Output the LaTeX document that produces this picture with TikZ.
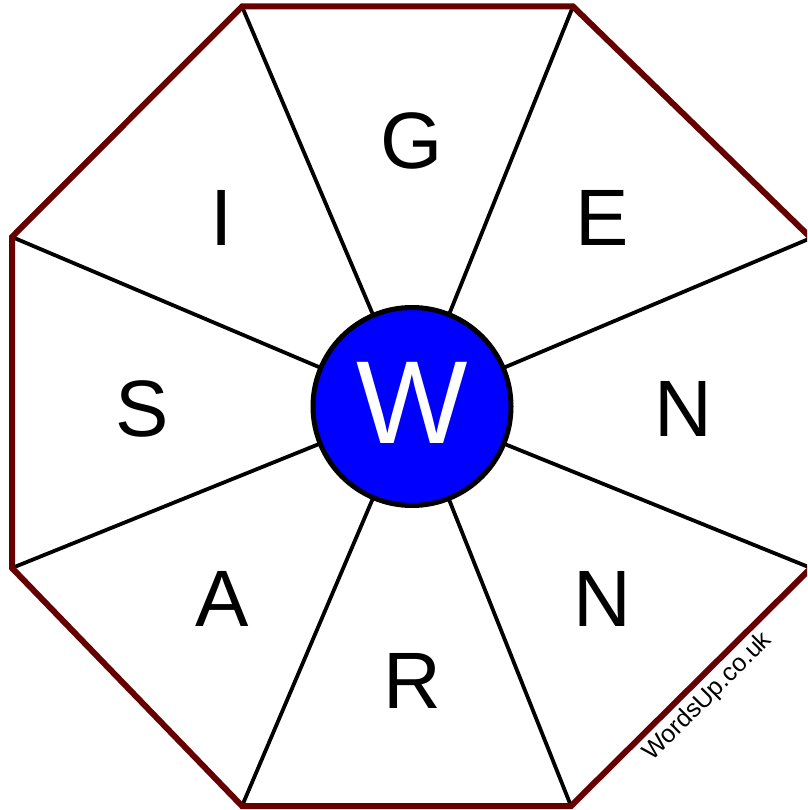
\documentclass[tikz,border=0pt]{standalone}
\usepackage{fontspec}
\setmainfont{Liberation Sans}
\definecolor{rim}{HTML}{660000}
\definecolor{hubblue}{HTML}{0000FF}
\tikzset{
    rimline/.style={draw=rim, line width=6pt, line join=miter},
    spoke/.style={draw=black, line width=3.8pt},
    hub/.style={circle, draw=black, line width=5pt, fill=hubblue, minimum size=198pt, inner sep=0pt,
        text=white, font=\fontsize{118}{118}\selectfont, text height=85pt, text depth=12pt},
    letter/.style={inner sep=0pt, font=\fontsize{80}{80}\selectfont, text height=58pt, text depth=0pt},
    watermark/.style={inner sep=0pt, rotate=45, font=\fontsize{25}{25}\selectfont}
}

\begin{document}
\begin{tikzpicture}[x=1pt, y=-1pt]
    \useasboundingbox (0,0) rectangle (807,810);
    \clip (0,0) rectangle (807,810);

    % Corners of the octagon
    \coordinate (v1) at (242,6.5);
    \coordinate (v2) at (573,6.5);
    \coordinate (v3) at (811,238);
    \coordinate (v4) at (811,568);
    \coordinate (v5) at (571,806);
    \coordinate (v6) at (242,806);
    \coordinate (v7) at (12,568);
    \coordinate (v8) at (12,237);
    \coordinate (c) at (412,406.5);

    % Spokes and rim
    \foreach \v in {v1,v2,v3,v4,v5,v6,v7,v8}
        \draw [spoke] (c) -- (\v);
    \draw [rimline] (v1) -- (v2) -- (v3) -- (v4) -- (v5) -- (v6) -- (v7) -- (v8) -- cycle;

    % Centre letter
    \node (hub) [hub] at (c) {W};

    % Outer letters
    \node (g) [letter] at (412,140) {G};
    \node (e) [letter] at (602,216) {E};
    \node (n1) [letter] at (683,407) {N};
    \node (n2) [letter] at (602,597) {N};
    \node (r) [letter] at (412,679) {R};
    \node (a) [letter] at (222,597) {A};
    \node (s) [letter] at (142,407) {S};
    \node (i) [letter] at (222,216) {I};

    \node (site) [watermark] at (708,697) {WordsUp.co.uk};
\end{tikzpicture}
\end{document}
